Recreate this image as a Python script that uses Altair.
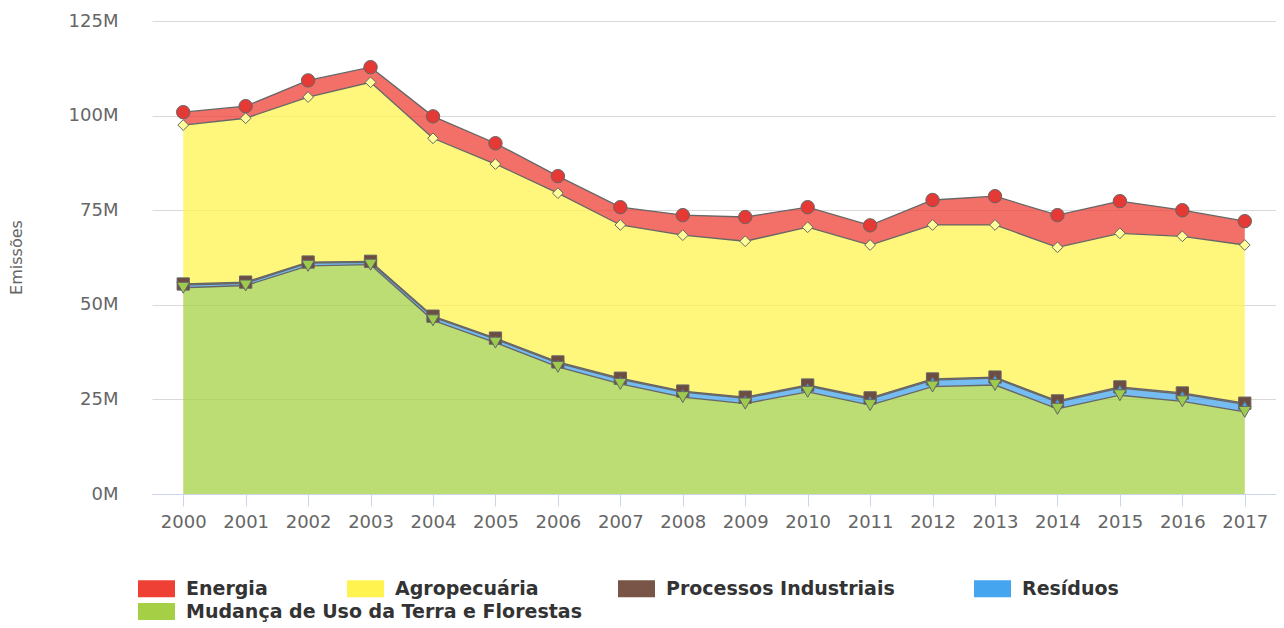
import altair as alt
import pandas as pd

years = ["2000", "2001", "2002", "2003", "2004", "2005", "2006", "2007", "2008",
         "2009", "2010", "2011", "2012", "2013", "2014", "2015", "2016", "2017"]

# values in millions (individual, stacked bottom -> top: Mudança, Resíduos, Processos, Agropecuária, Energia)
energia = [3.4, 3.2, 4.4, 4.0, 5.8, 5.5, 4.5, 4.7, 5.3, 6.4, 5.3, 5.2, 6.6, 7.6, 8.5, 8.5, 6.9, 6.3]
agropecuaria = [42.0, 43.3, 43.6, 47.3, 47.0, 46.0, 44.6, 40.5, 41.2, 41.2, 41.7, 40.4, 40.7, 40.2, 40.6, 40.6, 41.4, 41.8]
processos = [0.3, 0.3, 0.3, 0.3, 0.3, 0.3, 0.3, 0.3, 0.3, 0.3, 0.3, 0.3, 0.3, 0.3, 0.3, 0.3, 0.3, 0.3]
residuos = [0.7, 0.6, 0.7, 0.6, 0.8, 0.9, 1.0, 1.2, 1.3, 1.4, 1.5, 1.6, 1.7, 1.8, 1.8, 1.9, 1.9, 2.0]
mudanca = [54.5, 55.1, 60.3, 60.6, 45.9, 40.0, 33.6, 29.1, 25.6, 23.9, 27.0, 23.5, 28.4, 28.8, 22.5, 26.1, 24.5, 21.7]

series_names = ["Energia", "Agropecuária", "Processos Industriais", "Resíduos",
                "Mudança de Uso da Terra e Florestas"]
series_values = [energia, agropecuaria, processos, residuos, mudanca]
stack_index = [4, 3, 2, 1, 0]

legend_colors = ["#EE4035", "#FFF44F", "#795548", "#45A5EE", "#A5D046"]
marker_fills = ["#E53935", "#FFFF99", "#6D4C41", "#45A5EE", "#9CCB4E"]
marker_shapes = ["circle", "diamond", "square", "triangle-up", "triangle-down"]
marker_sizes = [180, 115, 150, 50, 160]

rows = []
for name, vals, idx in zip(series_names, series_values, stack_index):
    for y, v in zip(years, vals):
        rows.append({"year": y, "serie": name, "value": v * 1e6, "idx": idx})
df = pd.DataFrame(rows)

base = alt.Chart(df).transform_window(
    top="sum(value)", groupby=["year"], sort=[{"field": "idx"}], frame=[None, 0]
).transform_calculate(bottom="datum.top - datum.value")

x = alt.X(
    "year:O",
    scale=alt.Scale(type="point", padding=0.5),
    axis=alt.Axis(
        title=None, labelAngle=0, grid=False, ticks=True, tickSize=12,
        tickColor="#ccd6eb", domainColor="#ccd6eb", labelFont="DejaVu Sans",
        labelFontSize=18, labelColor="#666666", labelPadding=7,
    ),
)

y_axis = alt.Axis(
    values=[0, 25e6, 50e6, 75e6, 100e6, 125e6],
    labelExpr="(datum.value / 1000000) + 'M'",
    title="Emissões", titleFont="DejaVu Sans", titleFontSize=16,
    titleFontWeight="normal", titleColor="#666666",
    titleX=-144, titleY=236, titleBaseline="top", titleAngle=270,
    labelFont="DejaVu Sans", labelFontSize=18, labelColor="#666666",
    labelPadding=34, ticks=False, domain=False,
    gridColor="#d9d9d9", gridWidth=1,
)
y_scale = alt.Scale(domain=[0, 125e6], nice=False)

legend_common = dict(
    title=None, orient="none", legendX=-14, direction="horizontal",
    columnPadding=79, labelFont="DejaVu Sans", labelFontSize=19,
    labelFontWeight="bold", labelColor="#333333", labelOffset=11, labelLimit=0,
    symbolType="M-1,-0.46H1V0.46H-1Z", symbolSize=1369,
    symbolOpacity=1, symbolStrokeWidth=0,
)

areas_top = base.transform_filter("datum.idx > 0").mark_area(fillOpacity=0.75, strokeWidth=0).encode(
    x=x,
    y=alt.Y("top:Q", scale=y_scale, axis=y_axis),
    y2="bottom:Q",
    color=alt.Color(
        "serie:N",
        scale=alt.Scale(domain=series_names[:4], range=legend_colors[:4]),
        legend=alt.Legend(legendY=549, **legend_common),
    ),
)

areas_bottom = base.transform_filter("datum.idx == 0").mark_area(fillOpacity=0.75, strokeWidth=0).encode(
    x=x,
    y=alt.Y("top:Q", scale=y_scale),
    y2="bottom:Q",
    color=alt.Color(
        "serie:N",
        scale=alt.Scale(domain=series_names[4:], range=legend_colors[4:]),
        legend=alt.Legend(legendY=572, **legend_common),
    ),
)

lines = base.mark_line(color="#666666", strokeWidth=1.3).encode(
    x=x,
    y=alt.Y("top:Q", scale=y_scale),
    detail="serie:N",
)

point_layers = []
for name, fill, shape, size in zip(series_names, marker_fills, marker_shapes, marker_sizes):
    point_layers.append(
        base.transform_filter(alt.datum.serie == name).mark_point(
            filled=True, fill=fill, shape=shape, size=size,
            stroke="#666666", strokeWidth=1, opacity=1,
        ).encode(x=x, y=alt.Y("top:Q", scale=y_scale))
    )

chart = alt.layer(areas_top, areas_bottom, lines, *point_layers).resolve_scale(
    color="independent"
).resolve_legend(color="independent").properties(
    width=1124, height=473,
    padding={"left": 0, "top": 4, "right": 0, "bottom": 0},
    background="white",
).configure_view(stroke=None)

chart.save("out.html", embed_options={"renderer": "svg", "actions": False})
